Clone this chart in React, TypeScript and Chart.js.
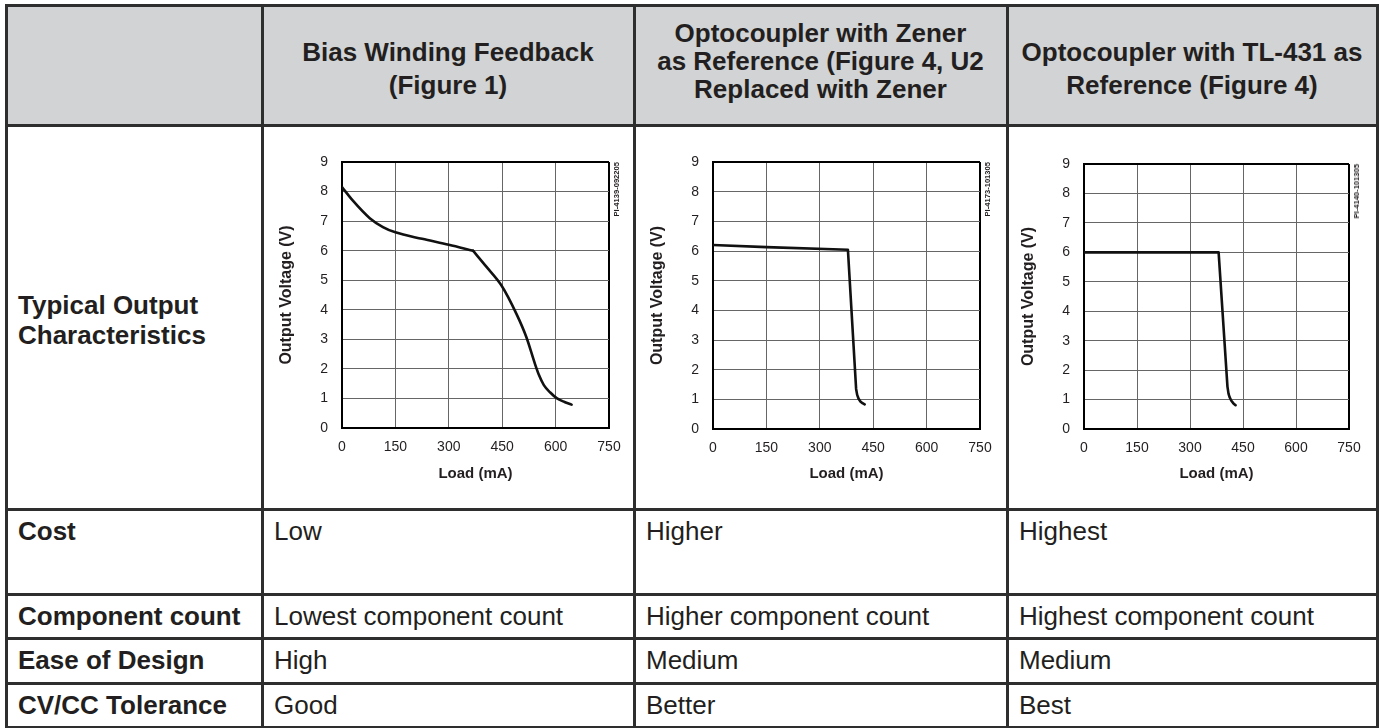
import React, { useEffect, useRef } from "react";
import { Chart, registerables } from "chart.js";

Chart.register(...registerables);

const FONT = '"Liberation Sans", Arial, Helvetica, sans-serif';
const TEXT = "#231f20";
const RULE = "#2e2e2e";
const HEAD_BG = "#d1d3d4";
const GRID = "#666666";

Chart.defaults.font.family = FONT;
Chart.defaults.color = TEXT;

// ---------- table text ----------
const headerBias = ["Bias Winding Feedback", "(Figure 1)"];
const headerZener = ["Optocoupler with Zener", "as Reference (Figure 4, U2", "Replaced with Zener"];
const headerTL431 = ["Optocoupler with TL-431 as", "Reference (Figure 4)"];
const outputRowLabel = ["Typical Output", "Characteristics"];
const rowLabels = ["Cost", "Component count", "Ease of Design", "CV/CC Tolerance"];
const costValues = ["Low", "Higher", "Highest"];
const componentValues = ["Lowest component count", "Higher component count", "Highest component count"];
const easeValues = ["High", "Medium", "Medium"];
const toleranceValues = ["Good", "Better", "Best"];

// ---------- chart data ----------
const loadTicks = [0, 150, 300, 450, 600, 750];
const voltTicks = [0, 1, 2, 3, 4, 5, 6, 7, 8, 9];
const xTitle = "Load (mA)";
const yTitle = "Output Voltage (V)";
const chartCodes = ["PI-4139-092205", "PI-4173-101305", "PI-4140-101305"];

// bias winding: constant-voltage part, then the fold-back part (joined at the knee)
const biasCvLoad = [0, 30, 78, 115, 150, 225, 300, 368];
const biasCvVolt = [8.15, 7.7, 7.1, 6.8, 6.62, 6.4, 6.2, 6.0];
const biasCcLoad = [368, 406, 448, 490, 518, 542, 553, 567, 585, 603, 625, 645];
const biasCcVolt = [6.0, 5.45, 4.82, 3.86, 3.07, 2.17, 1.8, 1.45, 1.2, 1.01, 0.88, 0.79];

const zenerLoad = [0, 150, 379, 402, 405, 409, 414, 420, 426];
const zenerVolt = [6.2, 6.13, 6.04, 1.35, 1.15, 1.02, 0.93, 0.87, 0.83];

const tlLoad = [0, 381, 406, 409, 412, 417, 423, 429];
const tlVolt = [6.0, 6.0, 1.44, 1.2, 1.08, 0.96, 0.87, 0.81];

// ---------- layout ----------
const colX = [6, 262, 634, 1007, 1377];
const rowY = [5, 125, 509, 594, 638, 683, 727];
const RULE_W = 3;

type Series = { load: number[]; volt: number[] };

type ChartProps = {
  series: Series[];
  code: string;
  cellLeft: number;
  cellRight: number;
  plotLeft: number;
  plotRight: number;
  plotTop: number;
  plotBottom: number;
  smooth: boolean;
};

function LoadChart(p: ChartProps) {
  const ref = useRef<HTMLCanvasElement | null>(null);
  const canvasLeft = p.cellLeft + 2;
  const canvasTop = rowY[1] + 2;
  const canvasWidth = p.cellRight - p.cellLeft - 4;
  const canvasHeight = rowY[2] - rowY[1] - 4;

  useEffect(() => {
    if (!ref.current) return;
    const yW = p.plotLeft - canvasLeft;
    const padRight = canvasLeft + canvasWidth - p.plotRight;
    const padTop = p.plotTop - canvasTop;
    const xH = canvasTop + canvasHeight - p.plotBottom;
    const yTitleSize = 16;
    const xTitleSize = 15;
    const yTitlePad = p.plotLeft - 55 - canvasLeft - (yTitleSize * 1.2) / 2;
    const xTitlePad = canvasTop + canvasHeight - 474 - (xTitleSize * 1.2) / 2;

    const chart = new Chart(ref.current, {
      type: "line",
      data: {
        datasets: p.series.map((s) => ({
          data: s.load.map((x, i) => ({ x, y: s.volt[i] })),
          borderColor: "#111111",
          borderWidth: 2.6,
          borderCapStyle: "round",
          borderJoinStyle: "round",
          pointRadius: 0,
          tension: 0,
          cubicInterpolationMode: p.smooth ? "monotone" : "default",
          fill: false,
        })),
      },
      options: {
        responsive: false,
        maintainAspectRatio: false,
        animation: false,
        layout: { padding: { left: 0, right: padRight, top: padTop, bottom: 0 } },
        plugins: { legend: { display: false }, tooltip: { enabled: false } },
        scales: {
          x: {
            type: "linear",
            min: 0,
            max: 750,
            afterBuildTicks: (s: any) => {
              s.ticks = loadTicks.map((v) => ({ value: v }));
            },
            afterFit: (s: any) => {
              s.height = xH;
            },
            grid: {
              drawTicks: false,
              color: (c: any) => (c.tick && c.tick.value === 750 ? "#000" : GRID),
              lineWidth: (c: any) => (c.tick && c.tick.value === 750 ? 2 : 1),
            },
            border: { display: true, color: "#000", width: 2 },
            ticks: { padding: 11, color: TEXT, font: { size: 14 }, maxRotation: 0 },
            title: {
              display: true,
              text: xTitle,
              color: TEXT,
              font: { size: xTitleSize, weight: "bold" },
              padding: { top: 0, bottom: xTitlePad },
            },
          },
          y: {
            type: "linear",
            min: 0,
            max: 9,
            afterBuildTicks: (s: any) => {
              s.ticks = voltTicks.map((v) => ({ value: v }));
            },
            afterFit: (s: any) => {
              s.width = yW;
            },
            grid: {
              drawTicks: false,
              color: (c: any) => (c.tick && c.tick.value === 9 ? "#000" : GRID),
              lineWidth: (c: any) => (c.tick && c.tick.value === 9 ? 2 : 1),
            },
            border: { display: true, color: "#000", width: 2 },
            ticks: { padding: 14, color: TEXT, font: { size: 14 } },
            title: {
              display: true,
              text: yTitle,
              color: TEXT,
              font: { size: yTitleSize, weight: "bold" },
              padding: { top: yTitlePad, bottom: 0 },
            },
          },
        },
      },
    } as any);
    return () => chart.destroy();
  }, []);

  return (
    <>
      <canvas
        ref={ref}
        width={canvasWidth}
        height={canvasHeight}
        style={{ position: "absolute", left: canvasLeft, top: canvasTop, width: canvasWidth, height: canvasHeight }}
      />
      <div
        style={{
          position: "absolute",
          left: p.plotRight + 8,
          top: p.plotTop,
          transformOrigin: "top left",
          transform: "rotate(-90deg) translate(-100%, -50%)",
          font: `bold 7.6px ${FONT}`,
          lineHeight: "8px",
          whiteSpace: "nowrap",
          color: TEXT,
        }}
      >
        {p.code}
      </div>
    </>
  );
}

function Lines({ lines, left, width, top, lineHeight, align, bold }: { lines: string[]; left: number; width: number; top: number; lineHeight: number; align: "left" | "center"; bold: boolean }) {
  return (
    <div
      style={{
        position: "absolute",
        left,
        width,
        top,
        textAlign: align,
        font: `${bold ? "bold " : ""}26px ${FONT}`,
        lineHeight: `${lineHeight}px`,
        color: TEXT,
        whiteSpace: "nowrap",
      }}
    >
      {lines.map((l, i) => (
        <div key={i}>{l}</div>
      ))}
    </div>
  );
}

export default function App() {
  const tableLeft = colX[0];
  const tableRight = colX[colX.length - 1];
  const tableTop = rowY[0];
  const tableBottom = rowY[rowY.length - 1];
  const bodyRows = [costValues, componentValues, easeValues, toleranceValues];

  return (
    <div style={{ position: "absolute", left: 0, top: 0, width: 1379, height: 728, background: "#fff", overflow: "hidden" }}>
      {/* header background */}
      <div style={{ position: "absolute", left: tableLeft, top: tableTop, width: tableRight - tableLeft, height: rowY[1] - tableTop, background: HEAD_BG }} />

      {/* header texts */}
      <Lines lines={headerBias} left={colX[1]} width={colX[2] - colX[1]} top={35.5} lineHeight={33} align="center" bold />
      <Lines lines={headerZener} left={colX[2]} width={colX[3] - colX[2]} top={19} lineHeight={28} align="center" bold />
      <Lines lines={headerTL431} left={colX[3]} width={colX[4] - colX[3]} top={35.5} lineHeight={33} align="center" bold />

      {/* output row label */}
      <Lines lines={outputRowLabel} left={colX[0] + 12} width={colX[1] - colX[0] - 14} top={290} lineHeight={30} align="left" bold />

      {/* charts */}
      <LoadChart
        series={[
          { load: biasCvLoad, volt: biasCvVolt },
          { load: biasCcLoad, volt: biasCcVolt },
        ]}
        code={chartCodes[0]}
        cellLeft={colX[1]}
        cellRight={colX[2]}
        plotLeft={342}
        plotRight={609}
        plotTop={162}
        plotBottom={428}
        smooth
      />
      <LoadChart series={[{ load: zenerLoad, volt: zenerVolt }]} code={chartCodes[1]} cellLeft={colX[2]} cellRight={colX[3]} plotLeft={713} plotRight={980} plotTop={162} plotBottom={429} smooth={false} />
      <LoadChart series={[{ load: tlLoad, volt: tlVolt }]} code={chartCodes[2]} cellLeft={colX[3]} cellRight={colX[4]} plotLeft={1084} plotRight={1349} plotTop={164} plotBottom={429} smooth={false} />

      {/* body rows */}
      {rowLabels.map((label, r) => (
        <React.Fragment key={label}>
          <Lines lines={[label]} left={colX[0] + 12} width={colX[1] - colX[0] - 14} top={rowY[r + 2] + 9} lineHeight={26} align="left" bold />
          {bodyRows[r].map((v, c) => (
            <Lines key={c} lines={[v]} left={colX[c + 1] + 12} width={colX[c + 2] - colX[c + 1] - 14} top={rowY[r + 2] + 9} lineHeight={26} align="left" bold={false} />
          ))}
        </React.Fragment>
      ))}

      {/* rules */}
      {rowY.map((y, i) => (
        <div key={"h" + i} style={{ position: "absolute", left: tableLeft - RULE_W / 2, top: y - RULE_W / 2, width: tableRight - tableLeft + RULE_W, height: RULE_W, background: RULE }} />
      ))}
      {colX.map((x, i) => (
        <div key={"v" + i} style={{ position: "absolute", left: x - RULE_W / 2, top: tableTop - RULE_W / 2, width: RULE_W, height: tableBottom - tableTop + RULE_W, background: RULE }} />
      ))}
    </div>
  );
}
